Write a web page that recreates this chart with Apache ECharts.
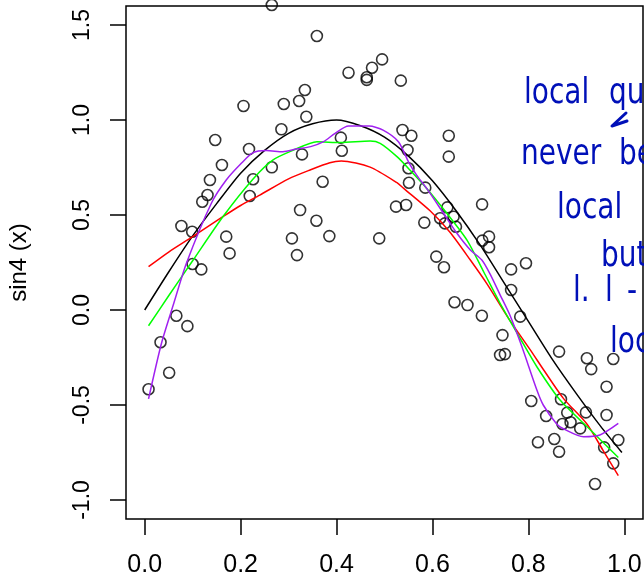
<!DOCTYPE html>
<html>
<head>
<meta charset="utf-8">
<script src="https://cdn.jsdelivr.net/npm/echarts@6/dist/echarts.min.js"></script>
<style>
  html, body { margin: 0; padding: 0; background: #fff; }
  #chart { width: 644px; height: 579px; }
</style>
</head>
<body>
<div id="chart"></div>
<script>
// Observed sample (x, noisy response)
const ptX = [0.008, 0.033, 0.051, 0.066, 0.089, 0.0765, 0.099, 0.0998, 0.118, 0.120,
  0.131, 0.136, 0.147, 0.161, 0.170, 0.177, 0.206, 0.2175, 0.219, 0.226,
  0.265, 0.265, 0.285, 0.290, 0.307, 0.3175, 0.322, 0.324, 0.328, 0.334,
  0.337, 0.358, 0.359, 0.371, 0.385, 0.409, 0.411, 0.425, 0.463, 0.463,
  0.474, 0.489, 0.495, 0.524, 0.534, 0.5375, 0.545, 0.548, 0.550, 0.551,
  0.556, 0.583, 0.585, 0.608, 0.616, 0.624, 0.626, 0.631, 0.634, 0.634,
  0.644, 0.646, 0.649, 0.673, 0.703, 0.7035, 0.704, 0.718, 0.718, 0.741,
  0.746, 0.751, 0.764, 0.764, 0.783, 0.795, 0.806, 0.820, 0.837, 0.854,
  0.864, 0.864, 0.868, 0.871, 0.881, 0.888, 0.908, 0.920, 0.922, 0.931,
  0.939, 0.958, 0.963, 0.963, 0.977, 0.977, 0.9875];
const ptY = [-0.417, -0.17, -0.33, -0.03, -0.085, 0.442, 0.412, 0.242, 0.214, 0.570,
  0.605, 0.684, 0.895, 0.763, 0.386, 0.298, 1.074, 0.847, 0.600, 0.688,
  0.751, 1.605, 0.951, 1.084, 0.377, 0.289, 1.100, 0.526, 0.819, 1.158,
  1.017, 0.470, 1.442, 0.675, 0.389, 0.907, 0.838, 1.249, 1.225, 1.211,
  1.275, 0.377, 1.319, 0.544, 1.207, 0.947, 0.553, 0.842, 0.746, 0.670,
  0.917, 0.460, 0.644, 0.281, 0.483, 0.225, 0.456, 0.540, 0.917, 0.807,
  0.491, 0.041, 0.438, 0.026, -0.030, 0.556, 0.365, 0.386, 0.330, -0.237,
  -0.132, -0.232, 0.214, 0.105, -0.035, 0.246, -0.479, -0.696, -0.558, -0.679,
  -0.219, -0.746, -0.470, -0.600, -0.540, -0.591, -0.623, -0.539, -0.254, -0.311,
  -0.916, -0.723, -0.404, -0.553, -0.258, -0.807, -0.684];

// True curve sin4(x)
const trueX = [0.0, 0.05, 0.10, 0.15, 0.20, 0.25, 0.30, 0.35, 0.40, 0.45, 0.50,
  0.55, 0.60, 0.65, 0.70, 0.75, 0.80, 0.85, 0.90, 0.95, 0.995];
const trueY = [0.0, 0.20, 0.39, 0.56, 0.72, 0.84, 0.93, 0.98, 1.00, 0.97, 0.91,
  0.81, 0.68, 0.52, 0.34, 0.14, -0.06, -0.26, -0.44, -0.61, -0.75];

// Local constant fit
const redX = [0.008, 0.05, 0.10, 0.163, 0.20, 0.24, 0.30, 0.345, 0.386, 0.41, 0.47,
  0.526, 0.54, 0.595, 0.637, 0.679, 0.713, 0.761, 0.804, 0.832, 0.873, 0.922, 0.956, 0.9875];
const redY = [0.228, 0.305, 0.386, 0.491, 0.55, 0.605, 0.69, 0.737, 0.775, 0.784, 0.752,
  0.67, 0.64, 0.522, 0.408, 0.263, 0.14, -0.053, -0.21, -0.316, -0.465, -0.60, -0.74, -0.872];

// Local linear fit
const greenX = [0.008, 0.05, 0.101, 0.163, 0.226, 0.267, 0.309, 0.359, 0.408, 0.47, 0.491,
  0.526, 0.553, 0.588, 0.630, 0.672, 0.707, 0.741, 0.783, 0.818, 0.866, 0.929, 0.9875];
const greenY = [-0.083, 0.075, 0.263, 0.491, 0.69, 0.789, 0.84, 0.886, 0.881, 0.889, 0.877,
  0.807, 0.737, 0.64, 0.509, 0.368, 0.20, 0.035, -0.15, -0.30, -0.474, -0.63, -0.776];

// Local quadratic fit
const purpleX = [0.008, 0.035, 0.06, 0.087, 0.139, 0.170, 0.2015, 0.226, 0.254, 0.288, 0.316,
  0.346, 0.373, 0.397, 0.425, 0.468, 0.497, 0.529, 0.550, 0.567, 0.588, 0.623, 0.651, 0.679,
  0.703, 0.720, 0.741, 0.762, 0.786, 0.8175, 0.831, 0.859, 0.873, 0.915, 0.949, 0.9875];
const purpleY = [-0.468, -0.175, 0.03, 0.246, 0.562, 0.684, 0.772, 0.828, 0.839, 0.833, 0.847,
  0.86, 0.886, 0.93, 0.968, 0.968, 0.947, 0.886, 0.78, 0.71, 0.64, 0.509, 0.404, 0.316,
  0.263, 0.19, 0.08, -0.03, -0.19, -0.42, -0.50, -0.60, -0.625, -0.667, -0.658, -0.597];

const xTicks = [0.0, 0.2, 0.4, 0.6, 0.8, 1.0];
const yTicks = [-1.0, -0.5, 0.0, 0.5, 1.0, 1.5];
const yLabel = 'sin4 (x)';

// Handwritten notes on the right
const notes = [
  { text: 'local', x: 524, y: 105 },
  { text: 'qu', x: 609, y: 105 },
  { text: 'never', x: 521, y: 166 },
  { text: 'be', x: 619, y: 166 },
  { text: 'local', x: 557, y: 220 },
  { text: 'but', x: 601, y: 268 },
  { text: 'l.', x: 573, y: 303 },
  { text: 'l', x: 605, y: 303 },
  { text: '-', x: 627, y: 303 },
  { text: 'loc', x: 610, y: 354 }
];

const zip = (xs, ys) => xs.map((x, i) => [x, ys[i]]);
const AXIS_FONT = "'Liberation Sans', Arial, sans-serif";
const INK = '#0010b8';

const lineSeries = (name, xs, ys, color) => ({
  name, type: 'line', data: zip(xs, ys), showSymbol: false, smooth: 0.25,
  lineStyle: { color, width: 1.5 }, z: 3, silent: true
});

const chart = echarts.init(document.getElementById('chart'), null, { renderer: 'canvas' });
chart.setOption({
  animation: false,
  backgroundColor: '#fff',
  grid: {
    left: 126, right: 1, top: 6, bottom: 60, containLabel: false, outerBoundsMode: 'none',
    show: true, borderColor: '#000', borderWidth: 1.5, backgroundColor: 'transparent'
  },
  xAxis: {
    type: 'value', min: -0.039, max: 1.039,
    splitLine: { show: false },
    axisLine: { show: false, onZero: false },
    axisTick: { show: true, inside: false, length: 16, customValues: xTicks, lineStyle: { color: '#000', width: 1.5 } },
    axisLabel: { customValues: xTicks, formatter: v => v.toFixed(1), fontSize: 25, color: '#000', fontFamily: AXIS_FONT, margin: 34 }
  },
  yAxis: {
    type: 'value', min: -1.1, max: 1.6,
    name: yLabel, nameLocation: 'middle', nameGap: 95,
    nameTextStyle: { fontSize: 24, color: '#000', fontFamily: AXIS_FONT },
    splitLine: { show: false },
    axisLine: { show: false, onZero: false },
    axisTick: { show: true, inside: false, length: 16, customValues: yTicks, lineStyle: { color: '#000', width: 1.5 } },
    axisLabel: { customValues: yTicks, formatter: v => v.toFixed(1), rotate: 90, fontSize: 23, color: '#000', fontFamily: AXIS_FONT, margin: 32 }
  },
  series: [
    {
      name: 'data', type: 'scatter', data: zip(ptX, ptY), symbol: 'circle', symbolSize: 11,
      itemStyle: { color: 'rgba(0,0,0,0)', borderColor: '#000', borderWidth: 1.6 },
      clip: false, z: 2, silent: true
    },
    lineSeries('sin4', trueX, trueY, '#000000'),
    lineSeries('local constant', redX, redY, '#ff0000'),
    lineSeries('local linear', greenX, greenY, '#00ff00'),
    lineSeries('local quadratic', purpleX, purpleY, '#a020f0')
  ],
  graphic: [
    ...notes.map(n => ({
      type: 'text', x: n.x, y: n.y - 11, scaleX: 0.8, z: 100, silent: true,
      style: { text: n.text, x: 0, y: 0, fill: INK, font: "35px 'DejaVu Sans', sans-serif", verticalAlign: 'middle', align: 'left' }
    })),
    {
      type: 'polyline', z: 100, silent: true,
      shape: { points: [[626, 113], [612, 126], [627, 121]] },
      style: { stroke: INK, lineWidth: 3, fill: null, lineCap: 'round', lineJoin: 'round' }
    }
  ]
});
</script>
</body>
</html>
